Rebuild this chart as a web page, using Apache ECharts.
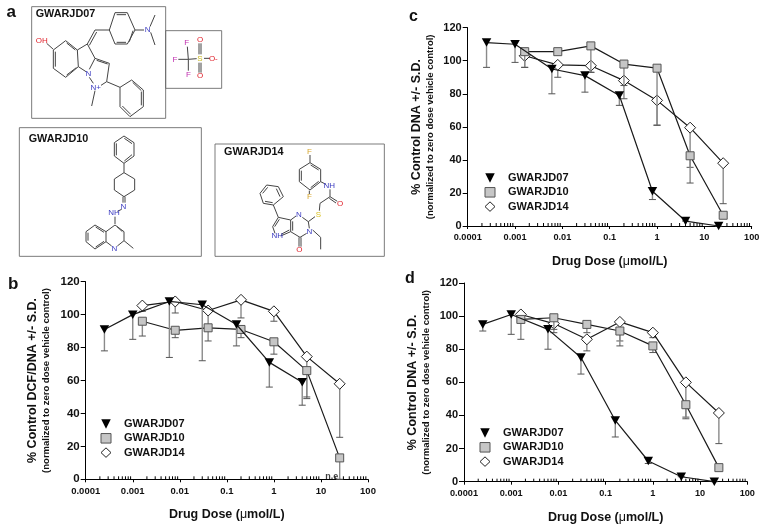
<!DOCTYPE html>
<html><head><meta charset="utf-8">
<style>html,body{margin:0;padding:0;background:#fff}#c{width:763px;height:527px}</style>
<script src="https://cdn.jsdelivr.net/npm/echarts@6/dist/echarts.min.js"></script>
</head><body><div id="c"></div>
<script>
// ---- data ----
const compoundNames = ['GWARJD07','GWARJD10','GWARJD14'];
const doses07 = [0.00025,0.001,0.006,0.03,0.16,0.8,4,20];
const doses1014 = [0.0016,0.008,0.04,0.2,1,5,25];
const xTickLabels = ['0.0001','0.001','0.01','0.1','1','10','100'];
const minorTickValues = [];
[0.0001,0.001,0.01,0.1,1,10].forEach(d=>[2,3,4,5,6,7,8,9].forEach(m=>minorTickValues.push(+(d*m).toPrecision(2))));

const b07 = [91,100,108,106,94,71,59];
const b07Low = [78,85,74,72,81,56,45];
const b10 = [96,90.5,92,91,83.5,66,13];
const b10Low = [87,86,84,86,76,50,0];
const b14 = [105.5,108,102.5,109,102,74.5,58];
const b14Low = [102,101,94,98,96,49,25.5];

const c07 = [111,110,95,91,79,21,3,0];
const c07Low = [96,99,80,81,73,16,3,0];
const c10 = [105.5,105.5,109,98,95.5,42.5,6.5];
const c10Low = [96,105,93,85,61,26,6.5];
const c14 = [103,97.5,97,88,76,59.5,38];
const c14Low = [96,90,93,77,61,35.5,13.5];

const d07 = [95,101,92,75,37,12.5,3,0];
const d07Low = [91,89,80,65,27,11,3,0];
const d10 = [98,99,95,91,82,46.5,8.5];
const d10Low = [86,92,90,82,78,38,8.5];
const d14 = [101,95.5,86,96.5,90,60,41.5];
const d14Low = [98,90,79,85,87,39,23];

const neNote = [[18,1.5]];

// ---- style ----
const FONT = '"Liberation Sans",Arial,sans-serif';
const tri = 'path://M0,0L10,0L5,10Z';
const styles = {
  GWARJD07:{symbol:tri, size:[9.5,8.5], item:{color:'#000',borderColor:'#000',borderWidth:0}, z:6},
  GWARJD10:{symbol:'rect', size:8, item:{color:'#c6c6c6',borderColor:'#555',borderWidth:1}, z:4},
  GWARJD14:{symbol:'diamond', size:11, item:{color:'#fff',borderColor:'#222',borderWidth:1}, z:2}
};

const panels = [
 {grid:{left:85.7,top:281.7,width:282.3,height:197.6}, yName:'% Control DCF/DNA +/- S.D.', yGap:33, xGap:29, sets:[[b07,b07Low],[b10,b10Low],[b14,b14Low]], legend:{left:100.5,top:417}, yFont:11.5, xFont:9.5},
 {grid:{left:467.7,top:27.7,width:284,height:198.3}, yName:'% Control DNA +/- S.D.', yGap:31, xGap:29, sets:[[c07,c07Low],[c10,c10Low],[c14,c14Low]], legend:{left:484.5,top:171}, yFont:11, xFont:9.2},
 {grid:{left:464,top:283,width:283.3,height:198.7}, yName:'% Control DNA +/- S.D.', yGap:31, xGap:29, sets:[[d07,d07Low],[d10,d10Low],[d14,d14Low]], legend:{left:479.5,top:426}, yFont:11, xFont:9.2}
];

function errorItem(params, api){
  const x=api.value(0), lo=api.coord([x,api.value(1)]), hi=api.coord([x,api.value(2)]);
  const cap=3.5;
  return {type:'group',children:[
    {type:'line',shape:{x1:lo[0],y1:lo[1],x2:hi[0],y2:hi[1]},style:{stroke:'#8a8a8a',lineWidth:1.4}},
    {type:'line',shape:{x1:lo[0]-cap,y1:lo[1],x2:lo[0]+cap,y2:lo[1]},style:{stroke:'#555',lineWidth:1}}
  ]};
}
function minorTickItem(params, api){
  const p=api.coord([api.value(0),0]);
  return {type:'line',shape:{x1:p[0],y1:p[1],x2:p[0],y2:p[1]-3},style:{stroke:'#000',lineWidth:1}};
}

const grid=[],xAxis=[],yAxis=[],series=[],legend=[];
panels.forEach((p,i)=>{
  grid.push(p.grid);
  xAxis.push({type:'log',logBase:10,gridIndex:i,min:0.0001,max:100,
    name:'Drug Dose ({m|\u03bc}mol/L)',nameLocation:'middle',nameGap:p.xGap,
    nameTextStyle:{fontFamily:FONT,fontSize:12.5,fontWeight:'bold',color:'#111',rich:{m:{fontFamily:FONT,fontSize:12.5,fontWeight:'normal',color:'#111'}}},
    axisLine:{show:true,onZero:false,lineStyle:{color:'#000',width:1}},
    axisTick:{show:true,length:3,lineStyle:{color:'#000',width:1}},
    minorTick:{show:false},splitLine:{show:false},minorSplitLine:{show:false},
    axisLabel:{show:true,margin:7,showMinLabel:true,showMaxLabel:true,hideOverlap:false,fontFamily:FONT,fontSize:p.xFont,fontWeight:'bold',color:'#111',
      formatter:(v)=>xTickLabels[Math.round(Math.log10(v))+4]}
  });
  yAxis.push({type:'value',gridIndex:i,min:0,max:120,interval:20,
    name:p.yName+'\n{s|(normalized to zero dose vehicle control)}',nameLocation:'middle',nameGap:p.yGap,nameRotate:90,
    nameTextStyle:{fontFamily:FONT,fontSize:12.5,fontWeight:'bold',color:'#111',lineHeight:14,align:'center',
      rich:{s:{fontFamily:FONT,fontSize:9.5,fontWeight:'bold',color:'#111',lineHeight:13}}},
    axisLine:{show:true,lineStyle:{color:'#000',width:1}},
    axisTick:{show:true,length:5,lineStyle:{color:'#000',width:1}},splitLine:{show:false},
    axisLabel:{margin:6,fontFamily:FONT,fontSize:p.yFont,fontWeight:'bold',color:'#111'}
  });
  series.push({type:'custom',name:'minor ticks '+i,silent:true,xAxisIndex:i,yAxisIndex:i,clip:false,z:1,
    encode:{x:0,y:1},data:minorTickValues.map(v=>[v,0]),renderItem:minorTickItem});
  compoundNames.forEach((n,k)=>{
    const st=styles[n], xs=k===0?doses07:doses1014, [vals,lows]=p.sets[k];
    series.push({type:'custom',name:n+' S.D. '+i,silent:true,xAxisIndex:i,yAxisIndex:i,clip:false,z:st.z-1,
      encode:{x:0,y:[1,2]},data:xs.map((x,j)=>[x,lows[j],vals[j]]),renderItem:errorItem});
    series.push({type:'line',name:n,xAxisIndex:i,yAxisIndex:i,clip:false,z:st.z,symbol:st.symbol,symbolSize:st.size,
      showAllSymbol:true,silent:true,animation:false,
      lineStyle:{color:'#1a1a1a',width:1.2},itemStyle:st.item,data:xs.map((x,j)=>[x,vals[j]])});
  });
  legend.push({show:true,left:p.legend.left,top:p.legend.top,padding:0,orient:'vertical',itemGap:0.3,itemWidth:10,itemHeight:9.5,align:'left',selectedMode:false,
    textStyle:{fontFamily:FONT,fontSize:11,fontWeight:'bold',color:'#111',padding:[0,0,0,8],lineHeight:14},
    data:compoundNames.map(n=>({name:n,icon:styles[n].symbol==='rect'?'rect':styles[n].symbol,itemStyle:styles[n].item}))});
});
series.push({type:'scatter',name:'n.e. note',xAxisIndex:0,yAxisIndex:0,symbolSize:0,silent:true,clip:false,data:neNote,
  label:{show:true,position:'inside',formatter:'n.e.',fontFamily:FONT,fontSize:9,fontWeight:'bold',color:'#111'}});

// ---- panel a: structure drawings (coordinates on a 3x sketch, scaled by the group) ----
const bonds = [
 // GWARJD07 top ring + amine
 [[328,90],[345,38],[382,38],[405,90],[382,132],[345,132],[328,90]],[[350,44],[378,44]],[[350,127],[378,127]],[[388,125],[399,92]],
 [[405,90],[432,90]],[[450,80],[465,45]],[[452,97],[465,135]],
 [[328,90],[285,90],[262,132]],[[290,96],[268,136]],
 // GWARJD07 core
 [[197,122],[232,150],[235,200],[197,232],[160,205],[160,150],[197,122]],[[166,155],[166,200]],[[200,129],[226,150]],[[200,225],[229,203]],
 [[262,132],[232,150]],[[235,200],[258,215]],[[262,132],[285,175],[268,208]],[[285,175],[328,190],[320,245],[303,256]],[[290,181],[323,192]],
 [[268,232],[280,250]],[[285,272],[275,318]],
 [[140,130],[160,148]],
 [[320,245],[360,262],[395,240],[430,270],[430,320],[390,350],[360,320],[360,262]],[[398,247],[424,272]],[[424,275],[424,316]],[[367,318],[392,343]],
 // triflate
 [[562,140],[565,178]],[[535,178],[565,178]],[[565,178],[565,212]],[[565,178],[590,176]],
 [[597,130],[597,163]],[[603,130],[603,163]],[[597,188],[597,218]],[[603,188],[603,218]],[[612,175],[630,175]],
 // GWARJD10
 [[372,408],[402,428],[402,468],[372,490],[343,468],[343,428],[372,408]],[[373,415],[396,431]],[[396,464],[373,483]],[[349,430],[349,466]],
 [[372,490],[372,518],[404,537],[404,570],[372,590],[343,570],[343,537],[372,518]],
 [[369,590],[369,608]],[[375,590],[375,608]],[[365,628],[352,634]],[[345,650],[345,672]],
 [[345,675],[372,695],[372,722],[352,738]],[[335,738],[318,725],[318,695],[345,675]],[[351,680],[367,695]],
 [[318,695],[285,675],[258,695],[258,725],[285,747],[318,725]],[[287,681],[312,697]],[[264,698],[264,722]],[[287,741],[312,724]],
 [[372,722],[400,745]],
 // GWARJD14
 [[930,465],[930,488],[962,508],[962,545],[930,570],[898,545],[898,508],[930,488]],[[904,512],[904,542]],[[932,495],[956,510]],[[932,563],[956,544]],
 [[928,572],[928,582]],[[962,545],[978,553]],[[990,568],[990,590],[960,610],[958,632]],[[990,590],[1012,604]],[[988,595],[1008,609]],
 [[945,650],[925,665]],[[925,665],[907,652]],[[888,648],[872,660],[872,695],[900,712],[920,700]],[[925,665],[928,685]],[[878,664],[878,692]],
 [[897,712],[897,740]],[[903,712],[903,740]],[[938,690],[962,712],[962,748]],
 [[872,660],[835,652],[818,680],[825,700]],[[842,708],[872,695]],[[868,690],[843,703]],[[838,658],[824,680]],
 [[835,652],[820,615],[850,590],[835,560],[800,555],[780,580],[790,610],[820,615]],[[788,580],[803,562]],[[840,590],[829,566]],[[795,604],[818,608]]
];
const atomLabels = [
 ['OH',125,122,'#e0202a'],['N',443,88,'#3a3ac0'],['N',265,220,'#3a3ac0'],['N+',287,262,'#3a3ac0'],
 ['F',560,128,'#c030b0'],['F',525,180,'#c030b0'],['F',565,225,'#c030b0'],['S',600,175,'#c8b820'],['O',600,120,'#e0202a'],['O',600,228,'#e0202a'],['O-',640,175,'#e0202a'],
 ['N',370,620,'#3a3ac0'],['NH',342,638,'#3a3ac0'],['N',343,745,'#3a3ac0'],
 ['F',928,455,'#d8a830'],['F',928,590,'#d8a830'],['NH',988,557,'#3a3ac0'],['O',1020,610,'#e0202a'],['S',955,643,'#d8c020'],['N',897,645,'#3a3ac0'],['N',928,695,'#3a3ac0'],['O',898,750,'#e0202a'],['NH',832,708,'#3a3ac0']
];
const boxes = [[95,20,402,335],[497,92,168,173],[58,383,546,386],[645,432,508,337]];
const boxLabels = [['GWARJD07',107,42],['GWARJD10',86,417],['GWARJD14',672,456]];
const panelLetters = [['a',6.5,3.5,17],['b',8,276,17],['c',409,9,16],['d',405,271,16]];

const sketch = [];
boxes.forEach(r=>sketch.push({type:'rect',shape:{x:r[0],y:r[1],width:r[2],height:r[3]},style:{fill:'none',stroke:'#666',lineWidth:2.6}}));
bonds.forEach(b=>sketch.push({type:'polyline',shape:{points:b},style:{fill:'none',stroke:'#444',lineWidth:3}}));
atomLabels.forEach(a=>sketch.push({type:'text',x:a[1],y:a[2],style:{text:a[0],fill:a[3],font:'24px '+FONT,align:'center',verticalAlign:'middle'}}));
boxLabels.forEach(a=>sketch.push({type:'text',x:a[1],y:a[2],style:{text:a[0],fill:'#111',font:'bold 32.5px '+FONT,align:'left',verticalAlign:'middle'}}));
const graphic=[{type:'group',x:0,y:0,scaleX:1/3,scaleY:1/3,children:sketch,silent:true}];
panelLetters.forEach(a=>graphic.push({type:'text',x:a[1],y:a[2],silent:true,style:{text:a[0],fill:'#111',font:'bold '+a[3]+'px '+FONT}}));

const chart=echarts.init(document.getElementById('c'),null,{renderer:'canvas'});
chart.setOption({animation:false,backgroundColor:'#fff',tooltip:{show:false},grid,xAxis,yAxis,series,legend,graphic});
</script></body></html>
